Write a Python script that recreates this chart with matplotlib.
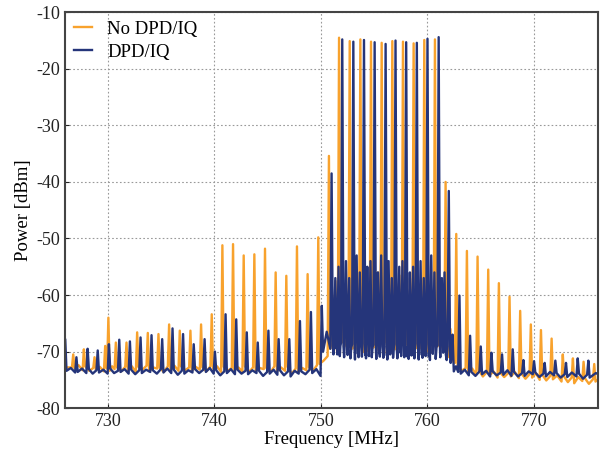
import matplotlib
matplotlib.use("Agg")
import matplotlib.pyplot as plt

plt.rcParams['font.family'] = ['Liberation Serif', 'DejaVu Serif']
plt.rcParams['axes.unicode_minus'] = False

# spectrum:
# each row = (frequency MHz, peak dBm, floor right after, floor mid-gap, floor before next peak)
no_dpd_start = -72.8
no_dpd_rows = [
    (726.75, -70.5, -73.0, -72.4, -73.3),
    (727.75, -69.6, -72.6, -73.4, -72.9),
    (728.75, -71.0, -73.2, -72.7, -73.5),
    (729.75, -69.0, -72.9, -72.9, -73.0),
    (730.05, -64.0, -73.4, -72.6, -73.1),
    (730.75, -68.4, -72.8, -73.5, -72.7),
    (731.75, -68.4, -73.3, -72.6, -73.6),
    (732.75, -66.6, -72.7, -73.2, -72.5),
    (733.75, -66.7, -73.5, -72.8, -73.0),
    (734.75, -66.9, -72.9, -73.6, -72.6),
    (735.75, -65.2, -73.1, -72.5, -73.4),
    (736.75, -66.3, -72.6, -73.3, -72.8),
    (737.75, -66.3, -73.4, -72.7, -73.2),
    (738.75, -65.2, -72.8, -73.5, -72.6),
    (739.75, -63.4, -73.0, -72.6, -73.6),
    (740.75, -51.2, -72.7, -73.4, -72.9),
    (741.75, -51.0, -73.3, -72.8, -73.5),
    (742.75, -53.0, -72.6, -73.6, -72.8),
    (743.75, -52.8, -73.4, -72.9, -73.1),
    (744.75, -51.8, -72.9, -73.7, -72.6),
    (745.75, -56.0, -73.5, -72.8, -73.4),
    (746.75, -56.6, -72.7, -73.9, -73.0),
    (747.75, -51.4, -73.6, -72.9, -73.3),
    (748.75, -56.3, -72.8, -73.4, -72.4),
    (749.75, -49.8, -72.2, -71.6, -70.8),
    (750.75, -35.4, -69.5, -68.0, -69.0),
    (751.05, -60.0, -68.5, -67.2, -68.2),
    (751.35, -57.5, -69.0, -70.2, -68.8),
    (751.70, -14.5, -67.6, -66.8, -68.4),
    (752.05, -58.5, -69.2, -67.5, -68.9),
    (752.35, -61.0, -70.4, -69.0, -67.9),
    (752.70, -15.1, -68.3, -67.0, -69.5),
    (753.05, -56.5, -67.8, -69.6, -68.2),
    (753.35, -60.0, -69.8, -67.4, -68.6),
    (753.70, -14.8, -67.5, -68.9, -70.1),
    (754.05, -59.0, -68.7, -67.3, -69.0),
    (754.35, -57.0, -70.0, -68.4, -67.7),
    (754.70, -15.2, -68.9, -67.6, -69.3),
    (755.05, -61.0, -67.6, -69.8, -68.0),
    (755.35, -56.0, -69.4, -67.8, -68.7),
    (755.70, -15.4, -67.9, -69.1, -70.3),
    (756.05, -57.5, -68.4, -67.1, -69.2),
    (756.35, -60.5, -70.1, -68.6, -67.8),
    (756.70, -15.1, -68.6, -67.4, -69.6),
    (757.05, -58.0, -67.7, -69.5, -68.3),
    (757.35, -56.5, -69.6, -67.9, -68.5),
    (757.70, -15.2, -68.1, -69.3, -70.2),
    (758.05, -60.0, -68.8, -67.2, -69.1),
    (758.35, -57.0, -70.3, -68.5, -67.6),
    (758.70, -15.5, -68.7, -67.3, -69.4),
    (759.05, -56.0, -67.5, -69.7, -68.1),
    (759.35, -59.0, -69.5, -67.6, -68.8),
    (759.70, -14.9, -67.8, -69.0, -70.0),
    (760.05, -58.0, -68.5, -67.0, -69.3),
    (760.35, -61.0, -70.2, -68.7, -67.9),
    (760.70, -14.8, -68.4, -67.2, -69.1),
    (761.05, -59.0, -67.9, -69.4, -68.2),
    (761.35, -62.0, -69.7, -68.3, -69.0),
    (761.70, -40.0, -70.5, -69.2, -71.0),
    (762.15, -66.0, -71.8, -70.8, -72.0),
    (762.70, -49.2, -72.6, -73.4, -72.9),
    (763.70, -52.2, -73.8, -73.0, -74.1),
    (764.70, -53.2, -73.3, -74.4, -73.6),
    (765.70, -55.5, -74.2, -73.5, -74.6),
    (766.70, -57.9, -73.7, -74.5, -73.8),
    (767.70, -60.3, -74.4, -73.6, -74.7),
    (768.70, -62.8, -73.9, -74.8, -74.0),
    (769.70, -65.2, -74.6, -73.8, -75.0),
    (770.65, -66.2, -74.1, -75.1, -74.3),
    (771.65, -67.7, -74.9, -74.2, -75.3),
    (772.70, -70.5, -74.4, -75.4, -74.6),
    (773.65, -71.2, -75.6, -74.5, -75.2),
    (774.65, -71.8, -74.7, -75.7, -74.9),
    (775.65, -72.2, -75.3, -74.8, -75.5),
]

dpd_start = -73.4
dpd_rows = [
    (726.00, -67.8, -73.4, -72.9, -73.7),
    (727.05, -71.0, -73.6, -73.0, -73.8),
    (728.10, -69.5, -73.1, -73.9, -73.3),
    (729.05, -69.8, -73.7, -73.2, -73.9),
    (730.10, -68.7, -73.0, -73.8, -73.4),
    (731.07, -67.9, -73.6, -73.1, -73.9),
    (732.07, -68.2, -73.2, -74.0, -73.3),
    (733.07, -67.5, -73.8, -73.2, -73.6),
    (734.10, -67.1, -73.3, -73.9, -73.1),
    (735.10, -67.8, -73.7, -73.0, -73.8),
    (736.07, -65.9, -73.2, -74.1, -73.4),
    (737.06, -66.9, -73.9, -73.3, -73.7),
    (738.06, -68.7, -73.1, -73.8, -73.2),
    (739.08, -67.8, -73.6, -72.9, -73.9),
    (740.05, -70.0, -73.3, -74.2, -73.5),
    (741.05, -63.4, -73.8, -73.1, -74.0),
    (742.05, -64.3, -73.2, -73.9, -73.4),
    (743.04, -66.6, -74.0, -73.3, -73.8),
    (744.07, -68.4, -73.4, -74.3, -73.6),
    (745.07, -66.3, -73.9, -73.2, -74.1),
    (746.03, -67.8, -73.3, -74.2, -73.5),
    (747.03, -67.8, -74.4, -73.4, -73.9),
    (748.03, -64.6, -73.5, -74.0, -73.2),
    (749.06, -63.0, -73.8, -73.1, -74.3),
    (750.08, -61.9, -70.0, -66.5, -69.5),
    (751.00, -38.5, -69.0, -70.5, -68.0),
    (751.35, -57.0, -69.5, -68.0, -70.5),
    (751.65, -55.0, -70.8, -69.0, -68.5),
    (752.00, -14.8, -69.2, -71.0, -68.8),
    (752.35, -54.0, -68.6, -70.6, -69.4),
    (752.65, -57.0, -71.2, -69.3, -68.7),
    (753.04, -15.2, -69.8, -71.4, -68.9),
    (753.35, -53.0, -70.4, -68.8, -71.0),
    (753.65, -56.0, -69.0, -70.9, -68.6),
    (754.04, -14.9, -70.6, -68.9, -71.2),
    (754.35, -55.0, -68.7, -70.8, -69.5),
    (754.65, -54.0, -71.0, -69.2, -68.8),
    (755.04, -15.3, -69.6, -71.3, -68.9),
    (755.35, -56.0, -70.3, -68.7, -70.9),
    (755.65, -53.0, -69.1, -71.1, -68.8),
    (756.07, -15.6, -70.7, -69.0, -71.4),
    (756.35, -54.0, -68.9, -70.5, -69.3),
    (756.65, -57.0, -71.1, -69.4, -68.7),
    (757.00, -15.0, -69.7, -71.2, -68.9),
    (757.35, -55.0, -70.2, -68.6, -70.8),
    (757.65, -54.0, -68.8, -71.0, -69.2),
    (758.00, -15.3, -70.9, -69.1, -71.3),
    (758.35, -56.0, -68.9, -70.7, -69.4),
    (758.65, -55.0, -71.2, -69.5, -68.6),
    (759.00, -15.4, -69.5, -71.4, -68.8),
    (759.35, -54.0, -70.6, -68.9, -71.1),
    (759.65, -57.0, -69.0, -70.8, -68.7),
    (760.00, -14.7, -70.8, -69.3, -71.5),
    (760.35, -53.0, -68.8, -70.4, -69.1),
    (760.65, -56.0, -71.3, -69.2, -68.9),
    (761.05, -14.4, -69.4, -71.0, -68.7),
    (761.35, -57.0, -70.2, -68.5, -69.6),
    (761.60, -56.0, -70.5, -71.5, -69.0),
    (762.00, -41.6, -70.8, -72.0, -71.2),
    (762.35, -67.0, -73.5, -72.6, -73.6),
    (763.00, -60.1, -73.9, -73.2, -74.2),
    (764.00, -67.2, -73.6, -74.3, -73.5),
    (765.00, -69.1, -74.0, -73.4, -74.4),
    (766.00, -70.2, -73.5, -74.2, -73.7),
    (767.00, -70.5, -74.1, -73.3, -74.3),
    (768.00, -69.6, -73.6, -74.4, -73.8),
    (769.00, -71.5, -74.3, -73.5, -74.0),
    (770.00, -71.7, -73.7, -74.5, -73.9),
    (771.00, -72.0, -74.4, -73.6, -74.2),
    (772.00, -71.6, -73.8, -74.6, -74.0),
    (773.00, -72.0, -74.5, -73.7, -74.4),
    (774.10, -71.2, -73.9, -74.8, -74.1),
    (775.10, -71.6, -74.6, -73.8, -74.3),
]

series_labels = ["No DPD/IQ", "DPD/IQ"]
x_ticks = [730, 740, 750, 760, 770]
y_ticks = [-80, -70, -60, -50, -40, -30, -20, -10]


def spectrum(start, rows, w=0.12):
    """Polyline through the read peaks and the floor values between them."""
    f = [725.5, rows[0][0] - w]
    p = [start, start]
    for i, (pf, pk, fa, fm, fb) in enumerate(rows):
        nxt = rows[i + 1][0] if i + 1 < len(rows) else 776.5
        f += [pf, pf + w, (pf + nxt) / 2, nxt - w]
        p += [pk, fa, fm, fb]
    return f, p


fig = plt.figure(figsize=(6.04, 4.54), dpi=100)
ax = fig.add_axes([0.108, 0.101, 0.882, 0.872])

f1, p1 = spectrum(no_dpd_start, no_dpd_rows)
f2, p2 = spectrum(dpd_start, dpd_rows)
ax.plot(f1, p1, color="#F8A22D", lw=1.7, label=series_labels[0])
ax.plot(f2, p2, color="#25357A", lw=1.7, label=series_labels[1])

ax.set_xlim(726, 776)
ax.set_ylim(-80, -10)
ax.set_xticks(x_ticks)
ax.set_yticks(y_ticks)
ax.grid(True, color="#999999", linestyle=(0, (1.5, 2)), linewidth=0.8)
ax.tick_params(direction="in", length=3, labelsize=13, colors="#222222")
for s in ax.spines.values():
    s.set_color("#444444")
    s.set_linewidth(1.5)
ax.set_xlabel("Frequency [MHz]", fontsize=13.5, labelpad=1)
ax.set_ylabel("Power [dBm]", fontsize=13.5, labelpad=3)
ax.legend(loc="upper left", frameon=False, fontsize=13.5, handlelength=1.0,
          handletextpad=0.8, borderaxespad=0.05, labelspacing=0.3)

fig.savefig("out.png", dpi=100)
